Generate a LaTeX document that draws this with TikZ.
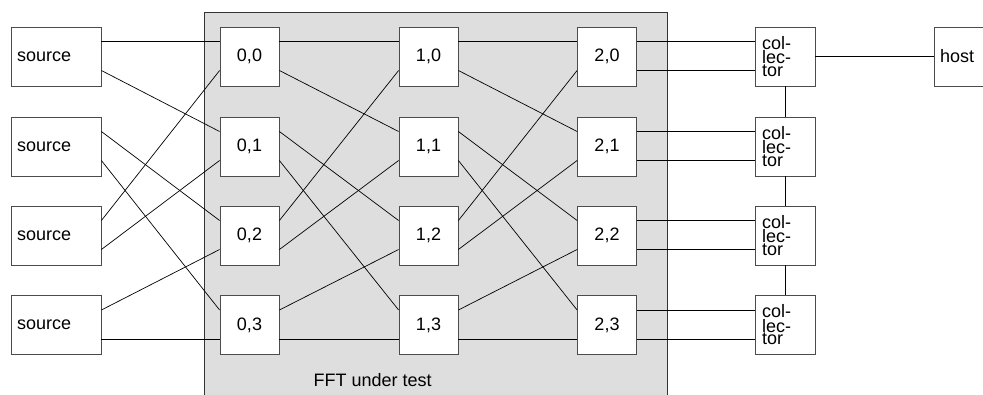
\documentclass[tikz,border=0pt]{standalone}
\usepackage{fontspec}
\setmainfont{Liberation Sans}
\begin{document}
\begin{tikzpicture}[x=1pt,y=-1pt,
  font=\fontsize{18}{21}\selectfont,
  blk/.style={draw=black!70, fill=white, line width=0.8pt, inner sep=0pt, minimum height=59pt},
  cell/.style={blk, minimum width=59pt},
  srcbox/.style={blk, minimum width=90pt, text width=78pt, align=left},
  hostbox/.style={blk, minimum width=59pt, text width=47pt, align=left},
  colbox/.style={blk, minimum width=60pt, text width=46pt, align=left,
    font=\fontsize{18}{11.5}\selectfont},
  wire/.style={black, line width=0.7pt}]
\useasboundingbox (0,0) rectangle (983,394);
\clip (0,0) rectangle (983,394);

% shaded region holding the FFT stages
\fill[black!13] (204.5,12.5) rectangle (667,400);
\draw[black!80, line width=0.8pt] (204.5,400) -- (204.5,12.5) -- (667,12.5) -- (667,400);
\node[anchor=base west] (fftlabel) at (310,386) {FFT under test};

% row positions
\def\rowA{56.5}\def\rowB{146.5}\def\rowC{235.5}\def\rowD{325}

% sources
\foreach \r/\y in {0/\rowA,1/\rowB,2/\rowC,3/\rowD}
  \node[srcbox] (s\r) at (56,\y) {source};

% butterfly stages
\foreach \s/\x in {0/249.5,1/428.5,2/607}
  \foreach \r/\y in {0/\rowA,1/\rowB,2/\rowC,3/\rowD}
    \node[cell] (n\s\r) at (\x,\y) {\s,\r};

% collectors and host
\foreach \r/\y in {0/\rowA,1/\rowB,2/\rowC,3/\rowD}
  \node[colbox] (c\r) at (785,\y) {col-\\lec-\\tor};
\node[hostbox] (host) at (963.5,\rowA) {host};

% perfect-shuffle wiring: from/port-offset/to/port-offset
\def\shuffle{0/15/0/15, 0/-14/1/15, 1/15/2/15, 1/-14/3/15,
             2/15/0/-14, 2/-14/1/-14, 3/15/2/-14, 3/-14/3/-14}

\foreach \f/\fy/\t/\ty in \shuffle
  \draw[wire] ([yshift=\fy pt]s\f.east) -- ([yshift=\ty pt]n0\t.west);

\foreach \s in {0,1}{
  \pgfmathtruncatemacro\nx{\s+1}
  \foreach \f/\fy/\t/\ty in \shuffle
    \draw[wire] ([yshift=\fy pt]n\s\f.east) -- ([yshift=\ty pt]n\nx\t.west);
}

% last stage to collectors
\foreach \r in {0,1,2,3}{
  \draw[wire] ([yshift=15pt]n2\r.east) -- ([yshift=15pt]c\r.west);
  \draw[wire] ([yshift=-14pt]n2\r.east) -- ([yshift=-14pt]c\r.west);
}

% collector chain and host link
\draw[wire] (c0.south) -- (c1.north);
\draw[wire] (c1.south) -- (c2.north);
\draw[wire] (c2.south) -- (c3.north);
\draw[wire] (c0.east) -- (host.west);
\end{tikzpicture}
\end{document}
